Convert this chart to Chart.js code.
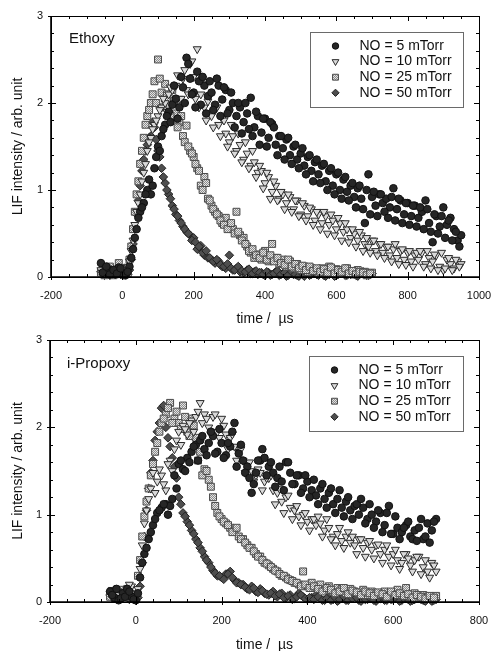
<!DOCTYPE html>
<html>
<head>
<meta charset="utf-8">
<script src="https://cdn.jsdelivr.net/npm/chart.js@4.4.1/dist/chart.umd.min.js"></script>
<style>
  html, body { margin: 0; padding: 0; background: #fff; }
  .box { position: relative; width: 491px; }
</style>
</head>
<body>
<div class="box" style="height:329px"><canvas id="ethoxy"></canvas></div>
<div class="box" style="height:322px"><canvas id="propoxy"></canvas></div>
<script>
// ---- data (time in µs, LIF intensity in arb. unit) ----
// each series is two interleaved sweeps: "a" on the 10 µs grid, "b" shifted by 5 µs
const seriesLabels = ['NO = 5 mTorr', 'NO = 10 mTorr', 'NO = 25 mTorr', 'NO = 50 mTorr'];

const ethTimeLong = [-60,-50,-40,-30,-20,-10,0,10,20,30,40,50,60,70,80,90,100,110,120,130,140,150,160,170,180,190,200,210,220,230,240,250,260,270,280,290,300,310,320,330,340,350,360,370,380,390,400,410,420,430,440,450,460,470,480,490,500,510,520,530,540,550,560,570,580,590,600,610,620,630,640,650,660,670,680,690,700,710,720,730,740,750,760,770,780,790,800,810,820,830,840,850,860,870,880,890,900,910,920,930,940,950];
const ethTimeLongB = [-55,-45,-35,-25,-15,-5,5,15,25,35,45,55,65,75,85,95,105,115,125,135,145,155,165,175,185,195,205,215,225,235,245,255,265,275,285,295,305,315,325,335,345,355,365,375,385,395,405,415,425,435,445,455,465,475,485,495,505,515,525,535,545,555,565,575,585,595,605,615,625,635,645,655,665,675,685,695,705,715,725,735,745,755,765,775,785,795,805,815,825,835,845,855,865,875,885,895,905,915,925,935,945];
const ethTimeShort = [-60,-50,-40,-30,-20,-10,0,10,20,30,40,50,60,70,80,90,100,110,120,130,140,150,160,170,180,190,200,210,220,230,240,250,260,270,280,290,300,310,320,330,340,350,360,370,380,390,400,410,420,430,440,450,460,470,480,490,500,510,520,530,540,550,560,570,580,590,600,610,620,630,640,650,660,670,680,690,700];
const ethTimeShortB = [-55,-45,-35,-25,-15,-5,5,15,25,35,45,55,65,75,85,95,105,115,125,135,145,155,165,175,185,195,205,215,225,235,245,255,265,275,285,295,305,315,325,335,345,355,365,375,385,395,405,415,425,435,445,455,465,475,485,495,505,515,525,535,545,555,565,575,585,595,605,615,625,635,645,655,665,675,685,695];

const eth5 = [0.16,0.06,0.09,0.04,0.07,0.11,0.05,0.03,0.12,0.32,0.55,0.75,0.85,1.0,0.95,1.25,1.5,1.62,1.75,1.9,1.98,2.05,1.95,2.18,2.52,2.28,2.12,2.36,1.98,2.2,2.08,2.12,1.98,2.2,2.04,2.15,1.92,2.0,1.85,1.95,1.78,1.88,2.06,1.72,1.85,1.66,1.82,1.6,1.76,1.52,1.62,1.48,1.58,1.4,1.5,1.35,1.42,1.28,1.38,1.22,1.32,1.18,1.28,1.1,1.22,1.05,1.18,1.0,1.12,0.98,1.05,0.92,1.02,0.9,0.62,1.18,0.92,0.82,0.95,0.85,0.9,0.8,1.02,0.78,0.88,0.72,0.85,0.7,0.82,0.68,0.75,0.88,0.62,0.4,0.7,0.58,0.8,0.6,0.68,0.55,0.42,0.48];
const eth5b = [0.05,0.12,0.03,0.08,0.04,0.1,0.02,0.06,0.22,0.45,0.68,0.8,0.95,1.12,1.05,1.38,1.45,1.7,1.85,1.78,2.2,1.82,2.3,2.0,2.45,2.1,1.95,2.25,2.3,1.88,2.25,1.92,2.28,1.85,2.18,1.88,2.12,1.72,2.0,1.65,2.0,1.7,1.62,1.9,1.52,1.82,1.5,1.78,1.72,1.4,1.62,1.35,1.6,1.3,1.52,1.25,1.48,1.18,1.4,1.1,1.35,1.08,1.3,1.0,1.25,0.95,1.2,0.9,1.15,0.88,1.08,0.8,1.05,0.78,1.0,0.72,0.98,0.7,0.95,0.75,0.68,0.92,0.65,0.9,0.62,0.85,0.6,0.82,0.58,0.8,0.55,0.78,0.52,0.72,0.5,0.7,0.45,0.65,0.42,0.52,0.35];
const eth10 = [0.08,0.04,0.1,0.05,0.03,0.08,0.06,0.05,0.18,0.42,0.75,0.95,1.2,1.45,1.6,1.75,1.85,1.95,2.0,2.1,2.15,2.2,2.05,2.28,2.15,2.45,2.3,2.62,2.1,1.95,2.02,1.85,1.92,1.75,1.82,1.65,1.55,1.62,1.45,1.52,1.35,1.42,1.28,1.32,1.2,1.22,1.08,1.15,0.98,1.05,0.9,0.95,0.85,0.92,0.78,0.88,0.72,0.82,0.7,0.78,0.65,0.72,0.62,0.7,0.6,0.65,0.55,0.62,0.52,0.55,0.45,0.5,0.42,0.48,0.38,0.35,0.42,0.3,0.38,0.28,0.35,0.25,0.32,0.22,0.3,0.2,0.28,0.18,0.25,0.2,0.28,0.15,0.22,0.18,0.25,0.12,0.08,0.2,0.15,0.1,0.18,0.15];
const eth10b = [0.05,0.09,0.03,0.07,0.1,0.04,0.08,0.12,0.3,0.6,0.85,1.1,1.3,1.55,1.7,1.8,1.92,2.05,1.9,2.18,2.0,2.32,2.05,2.38,2.1,2.48,2.05,1.95,2.28,1.8,2.08,1.72,1.95,1.62,1.8,1.5,1.75,1.42,1.65,1.32,1.55,1.25,1.45,1.15,1.28,1.02,1.2,0.9,1.1,0.88,0.98,0.78,0.95,0.75,0.88,0.7,0.85,0.65,0.8,0.6,0.75,0.55,0.75,0.5,0.72,0.48,0.68,0.42,0.62,0.4,0.55,0.35,0.52,0.3,0.45,0.28,0.42,0.25,0.38,0.22,0.35,0.18,0.38,0.15,0.32,0.14,0.3,0.12,0.28,0.3,0.12,0.3,0.1,0.26,0.08,0.28,0.1,0.22,0.08,0.2,0.12];
const eth25 = [0.05,0.02,0.1,0.06,0.03,0.16,0.05,0.08,0.2,0.55,0.95,1.3,1.6,1.85,2.0,2.25,2.5,2.12,2.22,2.05,2.15,1.88,1.78,1.62,1.74,1.45,1.38,1.25,1.05,1.15,0.9,0.82,0.75,0.7,0.62,0.68,0.58,0.55,0.75,0.48,0.45,0.35,0.28,0.22,0.26,0.2,0.3,0.18,0.38,0.22,0.15,0.2,0.12,0.18,0.1,0.15,0.08,0.12,0.06,0.1,0.08,0.05,0.1,0.06,0.12,0.05,0.09,0.04,0.07,0.1,0.05,0.03,0.08,0.04,0.06,0.03,0.05];
const eth25b = [0.08,0.04,0.12,0.02,0.07,0.05,0.1,0.04,0.35,0.75,1.1,1.45,1.75,1.92,2.1,2.0,2.28,1.95,2.1,1.85,2.02,1.72,1.85,1.55,1.5,1.42,1.3,1.22,1.0,1.08,0.88,0.78,0.72,0.65,0.6,0.55,0.62,0.5,0.52,0.42,0.38,0.3,0.32,0.25,0.22,0.28,0.2,0.25,0.18,0.22,0.16,0.14,0.2,0.12,0.15,0.1,0.13,0.08,0.12,0.07,0.1,0.06,0.09,0.05,0.11,0.04,0.08,0.06,0.1,0.04,0.07,0.03,0.06,0.05,0.02,0.04];
const eth50 = [0.06,0.02,0.05,0.08,0.03,0.06,0.04,0.02,0.08,0.38,0.72,1.05,1.35,1.52,1.62,1.72,1.45,1.25,1.08,0.95,0.82,0.72,0.65,0.58,0.52,0.48,0.45,0.32,0.36,0.25,0.22,0.2,0.16,0.18,0.12,0.1,0.25,0.08,0.1,0.06,0.05,0.08,0.04,0.06,0.03,0.05,0.02,0.05,0.03,0.06,0.02,0.04,0.01,0.05,0.03,0.02,0.06,0.01,0.04,0.03,0.05,0.02,0.06,0.01,0.03,0.05,0.02,0.04,0.06,0.02,0.03,0.05,0.01,0.04,0.03,0.02,0.04];
const eth50b = [0.04,0.07,0.02,0.05,0.09,0.03,0.05,0.03,0.2,0.55,0.88,1.22,1.45,1.6,1.78,1.58,1.38,1.15,1.0,0.9,0.78,0.7,0.62,0.55,0.5,0.42,0.4,0.35,0.28,0.3,0.22,0.18,0.2,0.14,0.12,0.15,0.1,0.08,0.12,0.07,0.06,0.09,0.04,0.07,0.05,0.03,0.06,0.02,0.04,0.07,0.03,0.05,0.02,0.06,0.03,0.01,0.04,0.06,0.02,0.05,0.03,0.07,0.02,0.04,0.05,0.01,0.03,0.06,0.02,0.04,0.05,0.02,0.03,0.06,0.02,0.03];

const proTime = [-60,-50,-40,-30,-20,-10,0,10,20,30,40,50,60,70,80,90,100,110,120,130,140,150,160,170,180,190,200,210,220,230,240,250,260,270,280,290,300,310,320,330,340,350,360,370,380,390,400,410,420,430,440,450,460,470,480,490,500,510,520,530,540,550,560,570,580,590,600,610,620,630,640,650,660,670,680,690,700];
const proTimeB = [-55,-45,-35,-25,-15,-5,5,15,25,35,45,55,65,75,85,95,105,115,125,135,145,155,165,175,185,195,205,215,225,235,245,255,265,275,285,295,305,315,325,335,345,355,365,375,385,395,405,415,425,435,445,455,465,475,485,495,505,515,525,535,545,555,565,575,585,595,605,615,625,635,645,655,665,675,685,695];

const pro5 = [0.12,0.05,0.02,0.1,0.15,0.06,0.02,0.28,0.55,0.72,0.88,1.02,1.08,1.12,1.1,1.45,1.58,1.52,1.65,1.72,1.8,1.85,1.75,1.82,1.9,1.72,1.82,1.68,1.78,2.05,1.7,1.62,1.55,1.25,1.48,1.62,1.65,1.55,1.48,1.42,1.38,1.6,1.48,1.35,1.45,1.3,1.38,1.28,1.22,1.3,1.18,1.25,1.12,1.18,1.08,1.15,1.05,1.1,1.0,1.08,0.95,1.0,0.92,1.02,0.88,1.1,0.78,0.85,0.8,0.88,0.75,0.82,0.85,0.72,0.9,0.82,0.95];
const pro5b = [0.08,0.15,0.04,0.06,0.12,0.03,0.1,0.45,0.62,0.8,0.95,1.05,1.12,1.0,1.18,1.3,1.62,1.5,1.6,1.78,1.62,1.9,1.68,1.95,1.7,1.98,1.65,1.82,1.95,1.55,1.8,1.48,1.42,1.35,1.62,1.75,1.45,1.6,1.32,1.55,1.28,1.6,1.35,1.45,1.25,1.45,1.2,1.4,1.12,1.35,1.08,1.3,1.02,1.28,0.98,1.2,0.95,1.12,1.18,0.9,1.12,0.85,1.05,0.8,1.02,0.78,0.98,0.72,0.85,0.92,0.72,0.7,0.95,0.75,0.68,0.92];
const pro10 = [0.1,0.05,0.12,0.08,0.15,0.18,0.1,0.38,0.9,1.18,1.48,1.38,1.45,1.28,1.62,1.75,1.95,2.02,1.92,2.08,2.12,2.28,2.15,2.0,2.12,1.95,2.1,1.92,1.88,1.78,1.72,1.62,1.58,1.5,1.45,1.48,1.38,1.42,1.28,1.25,1.15,1.2,1.08,1.05,0.98,1.0,0.92,0.95,0.88,0.9,0.82,0.85,0.75,0.78,0.7,0.75,0.68,0.65,0.72,0.62,0.68,0.6,0.65,0.55,0.6,0.52,0.55,0.48,0.45,0.55,0.42,0.48,0.52,0.4,0.35,0.45,0.35];
const pro10b = [0.14,0.08,0.05,0.12,0.2,0.06,0.15,0.65,1.05,1.3,1.25,1.52,1.35,1.58,1.5,1.85,1.8,1.98,2.05,1.95,2.18,2.05,2.1,1.92,2.15,1.88,2.02,1.75,1.92,1.62,1.75,1.48,1.6,1.38,1.52,1.28,1.42,1.45,1.12,1.3,1.02,1.22,0.95,1.1,0.88,1.02,0.82,0.95,0.98,0.75,0.95,0.72,0.65,0.85,0.62,0.8,0.75,0.55,0.72,0.52,0.7,0.5,0.66,0.45,0.65,0.42,0.6,0.38,0.55,0.5,0.35,0.52,0.32,0.48,0.28,0.42];
const pro25 = [0.06,0.12,0.04,0.1,0.15,0.08,0.05,0.48,0.98,1.3,1.58,1.82,2.05,2.15,2.28,2.1,2.05,2.25,1.95,2.1,1.88,1.72,1.52,1.4,1.2,1.02,0.95,0.9,0.85,0.82,0.75,0.72,0.65,0.62,0.55,0.52,0.45,0.42,0.38,0.35,0.3,0.28,0.25,0.22,0.2,0.35,0.18,0.22,0.16,0.2,0.14,0.18,0.12,0.16,0.15,0.1,0.15,0.12,0.1,0.14,0.08,0.12,0.1,0.08,0.12,0.07,0.1,0.14,0.08,0.16,0.06,0.1,0.05,0.08,0.06,0.04,0.07];
const pro25b = [0.1,0.05,0.14,0.06,0.12,0.04,0.3,0.75,1.15,1.45,1.72,1.95,2.1,2.22,2.05,2.18,1.98,2.12,1.9,2.02,1.62,1.45,1.5,1.32,1.1,0.98,0.92,0.88,0.8,0.85,0.72,0.68,0.62,0.58,0.52,0.48,0.44,0.4,0.36,0.32,0.3,0.26,0.24,0.22,0.18,0.2,0.16,0.18,0.15,0.12,0.16,0.14,0.1,0.12,0.16,0.09,0.13,0.11,0.08,0.12,0.1,0.07,0.11,0.09,0.06,0.12,0.08,0.1,0.07,0.09,0.05,0.08,0.06,0.04,0.07,0.05];
const pro50 = [0.08,0.14,0.03,0.06,0.1,0.04,0.02,0.18,0.75,1.3,1.62,1.95,2.22,2.0,1.78,1.55,1.2,1.02,0.92,0.82,0.72,0.62,0.52,0.45,0.36,0.3,0.28,0.32,0.35,0.25,0.22,0.2,0.15,0.18,0.12,0.15,0.1,0.08,0.12,0.06,0.1,0.05,0.08,0.04,0.1,0.06,0.03,0.05,0.08,0.04,0.02,0.06,0.03,0.01,0.05,0.02,0.04,0.06,0.02,0.05,0.03,0.07,0.01,0.04,0.02,0.05,0.03,0.06,0.02,0.04,0.01,0.03,0.05,0.02,0.04,0.01,0.03];
const pro50b = [0.05,0.1,0.06,0.12,0.03,0.08,0.05,0.45,1.05,1.48,1.85,2.05,2.25,1.88,1.65,1.42,1.12,0.98,0.88,0.78,0.68,0.58,0.48,0.4,0.33,0.3,0.26,0.32,0.28,0.22,0.2,0.17,0.14,0.16,0.11,0.13,0.09,0.1,0.07,0.09,0.05,0.07,0.03,0.06,0.08,0.04,0.05,0.03,0.06,0.02,0.04,0.02,0.05,0.03,0.06,0.02,0.04,0.05,0.01,0.03,0.05,0.02,0.04,0.06,0.02,0.03,0.05,0.01,0.04,0.03,0.02,0.05,0.03,0.01,0.04,0.02];

const xTickStep = 200;
const yTicks = [0, 1, 2, 3];
// ---------------------------------------------------------------------------

const FONT = '"Liberation Sans", Arial, Helvetica, sans-serif';

function hatch() {
    const c = document.createElement('canvas');
    c.width = 2; c.height = 2;
    const g = c.getContext('2d');
    g.fillStyle = '#e4e4e4'; g.fillRect(0, 0, 2, 2);
    g.fillStyle = '#8c8c8c'; g.fillRect(0, 0, 1, 1); g.fillRect(1, 1, 1, 1);
    return g.createPattern(c, 'repeat');
}

const styles = [
    { pointStyle: 'circle', pointRadius: 3.8, backgroundColor: '#262626', borderColor: '#111', borderWidth: 1 },
    { pointStyle: 'triangle', rotation: 180, pointRadius: 4.6, backgroundColor: '#dadada', borderColor: '#2a2a2a', borderWidth: 1 },
    { pointStyle: 'rect', pointRadius: 4.9, backgroundColor: hatch(), borderColor: '#4a4a4a', borderWidth: 1 },
    { pointStyle: 'rectRot', pointRadius: 4.3, backgroundColor: '#4e4e4e', borderColor: '#222', borderWidth: 1 }
];

const frame = {
    id: 'frame',
    afterDraw(chart, args, o) {
        const { ctx, chartArea: a, scales: { x, y } } = chart;
        ctx.save();
        ctx.strokeStyle = '#000';
        ctx.lineWidth = 1;
        ctx.beginPath();
        for (let v = x.min; v <= x.max + 1e-6; v += o.xMinor) {
            const px = Math.round(x.getPixelForValue(v)) + 0.5;
            const major = Math.abs(((v - x.min) / o.xMajor) - Math.round((v - x.min) / o.xMajor)) < 1e-6;
            const len = major ? 5 : 3;
            ctx.moveTo(px, a.bottom + (major ? 3 : 0)); ctx.lineTo(px, a.bottom - len);
            ctx.moveTo(px, a.top); ctx.lineTo(px, a.top + len);
        }
        for (let v = y.min; v <= y.max + 1e-6; v += 0.2) {
            const py = Math.round(y.getPixelForValue(v)) + 0.5;
            const major = Math.abs(v - Math.round(v)) < 1e-6;
            const len = major ? 5 : 3;
            ctx.moveTo(a.left - (major ? 3 : 0), py); ctx.lineTo(a.left + len, py);
            ctx.moveTo(a.right, py); ctx.lineTo(a.right - len, py);
        }
        ctx.stroke();
        ctx.strokeRect(Math.round(a.left) + 0.5, Math.round(a.top) + 0.5,
            Math.round(a.right - a.left), Math.round(a.bottom - a.top));
        ctx.lineWidth = 1.6;
        ctx.beginPath();
        ctx.moveTo(a.left, a.top); ctx.lineTo(a.left, a.bottom); ctx.lineTo(a.right, a.bottom);
        ctx.stroke();

        // sample name
        ctx.fillStyle = '#111';
        ctx.font = '15px ' + FONT;
        ctx.textBaseline = 'middle';
        ctx.fillText(o.name, a.left + o.nameX, a.top + o.nameY);
        ctx.restore();
    }
};

const legendBox = {
    id: 'legendBox',
    afterDraw(chart, args, o) {
        const { ctx, chartArea: a } = chart;
        const bx = Math.round(a.right - o.right - o.w) + 0.5;
        const by = Math.round(a.top + o.top) + 0.5;
        ctx.save();
        ctx.fillStyle = '#fff';
        ctx.fillRect(bx, by, o.w, o.h);
        ctx.strokeStyle = '#6a6a6a';
        ctx.lineWidth = 1;
        ctx.strokeRect(bx, by, o.w, o.h);
        ctx.font = '14px ' + FONT;
        ctx.textBaseline = 'middle';
        chart.data.datasets.forEach((ds, i) => {
            const yy = by + o.row0 + i * o.gap;
            ctx.fillStyle = ds.backgroundColor;
            ctx.strokeStyle = ds.borderColor;
            ctx.lineWidth = ds.borderWidth;
            Chart.helpers.drawPoint(ctx, {
                pointStyle: ds.pointStyle, rotation: ds.rotation || 0,
                radius: ds.pointRadius * 0.85, borderWidth: ds.borderWidth
            }, bx + 25, yy);
            ctx.fillStyle = '#111';
            ctx.fillText(ds.label, bx + 49, yy);
        });
        ctx.restore();
    }
};

function toPoints(times, vals) {
    return times.map((t, i) => ({ x: t, y: vals[i] }));
}

function makeChart(id, cfg) {
    const ctx = document.getElementById(id).getContext('2d');
    return new Chart(ctx, {
        type: 'scatter',
        data: {
            datasets: cfg.series.map((s, i) => Object.assign({
                label: seriesLabels[i],
                data: toPoints(s.t, s.v).concat(toPoints(s.tb, s.vb)),
                clip: false,
                pointHoverRadius: styles[i].pointRadius
            }, styles[i]))
        },
        plugins: [frame, legendBox],
        options: {
            responsive: true,
            maintainAspectRatio: false,
            animation: false,
            events: [],
            layout: { padding: { top: cfg.top, right: 12, left: 0, bottom: 0 } },
            plugins: {
                legend: { display: false },
                tooltip: { enabled: false },
                frame: { xMinor: cfg.xMinor, xMajor: xTickStep, name: cfg.name, nameX: cfg.nameX, nameY: cfg.nameY },
                legendBox: { right: 16, top: 16, w: cfg.legendW, h: 75, row0: 13.5, gap: 15.6 }
            },
            scales: {
                x: {
                    type: 'linear',
                    min: -200, max: cfg.xMax,
                    grid: { display: false, drawTicks: false },
                    border: { display: false },
                    ticks: { stepSize: xTickStep, padding: 12, color: '#111', font: { family: FONT, size: 11 },
                        maxRotation: 0, callback: v => String(v) },
                    title: { display: true, text: 'time /  µs', color: '#111',
                        font: { family: FONT, size: 14, lineHeight: cfg.titleLH }, padding: { top: 0, bottom: cfg.titlePad } },
                    afterFit: s => { s.height = cfg.xH; s.paddingLeft = 0; s.paddingRight = 0; }
                },
                y: {
                    type: 'linear',
                    min: 0, max: 3,
                    grid: { display: false, drawTicks: false },
                    border: { display: false },
                    afterBuildTicks: s => { s.ticks = yTicks.map(v => ({ value: v })); },
                    ticks: { padding: 8, color: '#111', font: { family: FONT, size: 11 }, callback: v => String(v) },
                    title: { display: true, text: 'LIF intensity / arb. unit', color: '#111',
                        font: { family: FONT, size: 14 }, padding: { top: 10, bottom: 0 } },
                    afterFit: s => { s.width = cfg.yW; s.paddingTop = 0; s.paddingBottom = 0; }
                }
            }
        }
    });
}

makeChart('ethoxy', {
    name: 'Ethoxy', nameX: 18, nameY: 23,
    top: 16, xH: 52, yW: 51, xMax: 1000, xMinor: 50, legendW: 153,
    titleLH: 1.2, titlePad: 1,
    series: [
        { t: ethTimeLong, v: eth5, tb: ethTimeLongB, vb: eth5b },
        { t: ethTimeLong, v: eth10, tb: ethTimeLongB, vb: eth10b },
        { t: ethTimeShort, v: eth25, tb: ethTimeShortB, vb: eth25b },
        { t: ethTimeShort, v: eth50, tb: ethTimeShortB, vb: eth50b }
    ]
});

makeChart('propoxy', {
    name: 'i-Propoxy', nameX: 17, nameY: 24,
    top: 11, xH: 49, yW: 50, xMax: 800, xMinor: 40, legendW: 154,
    titleLH: 0.9, titlePad: 0,
    series: [
        { t: proTime, v: pro5, tb: proTimeB, vb: pro5b },
        { t: proTime, v: pro10, tb: proTimeB, vb: pro10b },
        { t: proTime, v: pro25, tb: proTimeB, vb: pro25b },
        { t: proTime, v: pro50, tb: proTimeB, vb: pro50b }
    ]
});
</script>
</body>
</html>
